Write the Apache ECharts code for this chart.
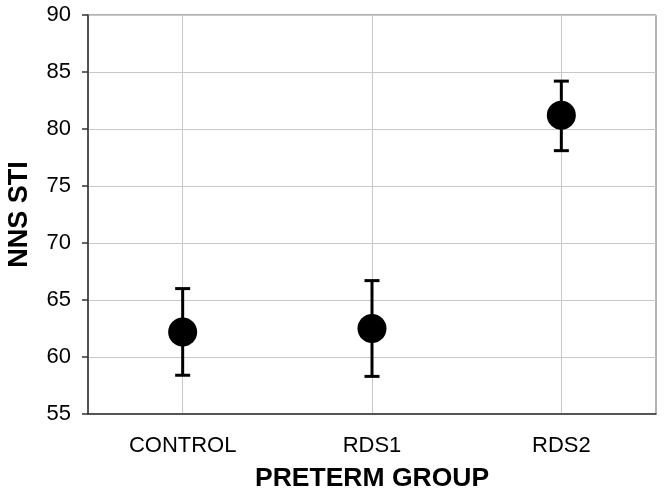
<!DOCTYPE html>
<html>
<head>
<meta charset="utf-8">
<script src="https://cdn.jsdelivr.net/npm/echarts@6/dist/echarts.min.js"></script>
<style>html,body{margin:0;padding:0;background:#fff}#c{width:664px;height:502px}</style>
</head>
<body>
<div id="c"></div>
<script>
var categories = ['CONTROL', 'RDS1', 'RDS2'];
var means = [62.2, 62.5, 81.2];
var upper = [66.0, 66.7, 84.2];
var lower = [58.4, 58.3, 78.1];
var yTicks = [55, 60, 65, 70, 75, 80, 85, 90];

var chart = echarts.init(document.getElementById('c'), null, {renderer: 'canvas'});
var font = 'Liberation Sans, Arial, sans-serif';
var errData = categories.map(function (c, i) { return [i, lower[i], upper[i]]; });

chart.setOption({
  animation: false,
  backgroundColor: '#fff',
  grid: {left: 88, right: 8, top: 15, bottom: 88, show: true, borderColor: '#666', borderWidth: 1,
         containLabel: false, outerBoundsMode: 'none'},
  xAxis: {
    type: 'category',
    data: categories,
    name: 'PRETERM GROUP',
    nameLocation: 'middle',
    nameGap: 51,
    nameTextStyle: {fontFamily: font, fontSize: 26.5, fontWeight: 'bold', color: '#000'},
    axisLine: {lineStyle: {color: '#333', width: 1.5}},
    axisTick: {alignWithLabel: true, length: 6, inside: false, lineStyle: {color: '#333', width: 1.5}},
    axisLabel: {fontFamily: font, fontSize: 22, color: '#000', margin: 21},
    splitLine: {show: true, alignWithLabel: true, lineStyle: {color: '#c8c8c8', width: 1}}
  },
  yAxis: {
    type: 'value',
    min: yTicks[0],
    max: yTicks[yTicks.length - 1],
    interval: 5,
    name: 'NNS STI',
    nameLocation: 'middle',
    nameGap: 55,
    nameTextStyle: {fontFamily: font, fontSize: 27, fontWeight: 'bold', color: '#000'},
    axisLine: {show: true, lineStyle: {color: '#333', width: 1.5}},
    axisTick: {show: true, length: 6, lineStyle: {color: '#333', width: 1.5}},
    axisLabel: {fontFamily: font, fontSize: 22, color: '#000', margin: 17},
    splitLine: {show: true, lineStyle: {color: '#c8c8c8', width: 1}}
  },
  series: [
    {
      type: 'custom',
      data: errData,
      z: 3,
      renderItem: function (params, api) {
        var x = api.value(0);
        var lo = api.coord([x, api.value(1)]);
        var hi = api.coord([x, api.value(2)]);
        var hw = 7.5;
        var st = {stroke: '#000', lineWidth: 3};
        return {
          type: 'group',
          children: [
            {type: 'line', shape: {x1: lo[0], y1: lo[1], x2: hi[0], y2: hi[1]}, style: st},
            {type: 'line', shape: {x1: hi[0] - hw, y1: hi[1], x2: hi[0] + hw, y2: hi[1]}, style: st},
            {type: 'line', shape: {x1: lo[0] - hw, y1: lo[1], x2: lo[0] + hw, y2: lo[1]}, style: st}
          ]
        };
      }
    },
    {
      type: 'scatter',
      data: means,
      symbol: 'circle',
      symbolSize: 29,
      z: 4,
      itemStyle: {color: '#000', opacity: 1}
    }
  ]
});
</script>
</body>
</html>
